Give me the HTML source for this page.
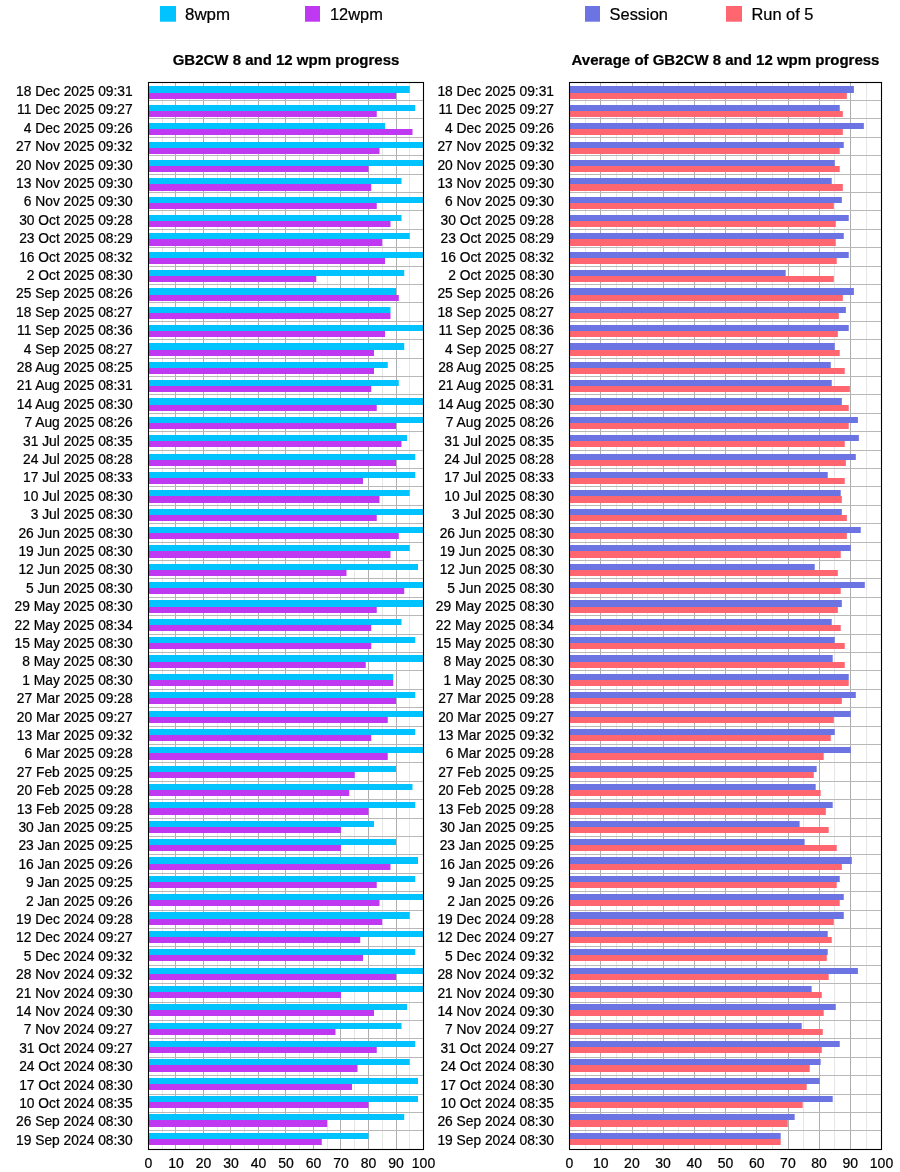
<!DOCTYPE html>
<html><head><meta charset="utf-8"><title>GB2CW progress</title>
<style>html,body{margin:0;padding:0;background:#fff}svg{display:block;will-change:transform}text{font-family:"Liberation Sans",sans-serif;fill:#000;stroke:#000;stroke-width:0.22px}.l{font-size:13.8px;text-anchor:end}.t{font-size:14px;text-anchor:middle}.g{font-size:16.4px}.h{font-size:15px;font-weight:bold;text-anchor:middle}</style></head><body>
<svg width="900" height="1172" viewBox="0 0 900 1172">
<rect width="900" height="1172" fill="#fff"/>
<g>
<rect x="160" y="6" width="16" height="15.7" fill="#00c3ff"/>
<text class="g" x="185.0" y="19.7" style="font-size:16.9px">8wpm</text>
<rect x="305" y="6" width="15" height="15.7" fill="#bf38f2"/>
<text class="g" x="330" y="19.7">12wpm</text>
<text class="h" x="286" y="65">GB2CW 8 and 12 wpm progress</text>
<rect x="162" y="83" width="1" height="1066" fill="#e6e6e6"/>
<rect x="175" y="83" width="1" height="1066" fill="#aeaeae"/>
<rect x="189" y="83" width="1" height="1066" fill="#e6e6e6"/>
<rect x="203" y="83" width="1" height="1066" fill="#aeaeae"/>
<rect x="217" y="83" width="1" height="1066" fill="#e6e6e6"/>
<rect x="230" y="83" width="1" height="1066" fill="#aeaeae"/>
<rect x="244" y="83" width="1" height="1066" fill="#e6e6e6"/>
<rect x="258" y="83" width="1" height="1066" fill="#aeaeae"/>
<rect x="272" y="83" width="1" height="1066" fill="#e6e6e6"/>
<rect x="285" y="83" width="1" height="1066" fill="#aeaeae"/>
<rect x="299" y="83" width="1" height="1066" fill="#e6e6e6"/>
<rect x="313" y="83" width="1" height="1066" fill="#aeaeae"/>
<rect x="327" y="83" width="1" height="1066" fill="#e6e6e6"/>
<rect x="340" y="83" width="1" height="1066" fill="#aeaeae"/>
<rect x="354" y="83" width="1" height="1066" fill="#e6e6e6"/>
<rect x="368" y="83" width="1" height="1066" fill="#aeaeae"/>
<rect x="382" y="83" width="1" height="1066" fill="#e6e6e6"/>
<rect x="396" y="83" width="1" height="1066" fill="#aeaeae"/>
<rect x="409" y="83" width="1" height="1066" fill="#e6e6e6"/>
<rect x="149" y="100" width="274" height="1" fill="#b8b8b8"/>
<rect x="149" y="118" width="274" height="1" fill="#b8b8b8"/>
<rect x="149" y="137" width="274" height="1" fill="#b8b8b8"/>
<rect x="149" y="155" width="274" height="1" fill="#b8b8b8"/>
<rect x="149" y="174" width="274" height="1" fill="#b8b8b8"/>
<rect x="149" y="192" width="274" height="1" fill="#b8b8b8"/>
<rect x="149" y="210" width="274" height="1" fill="#b8b8b8"/>
<rect x="149" y="229" width="274" height="1" fill="#b8b8b8"/>
<rect x="149" y="247" width="274" height="1" fill="#b8b8b8"/>
<rect x="149" y="266" width="274" height="1" fill="#b8b8b8"/>
<rect x="149" y="284" width="274" height="1" fill="#b8b8b8"/>
<rect x="149" y="302" width="274" height="1" fill="#b8b8b8"/>
<rect x="149" y="321" width="274" height="1" fill="#b8b8b8"/>
<rect x="149" y="339" width="274" height="1" fill="#b8b8b8"/>
<rect x="149" y="358" width="274" height="1" fill="#b8b8b8"/>
<rect x="149" y="376" width="274" height="1" fill="#b8b8b8"/>
<rect x="149" y="394" width="274" height="1" fill="#b8b8b8"/>
<rect x="149" y="413" width="274" height="1" fill="#b8b8b8"/>
<rect x="149" y="431" width="274" height="1" fill="#b8b8b8"/>
<rect x="149" y="450" width="274" height="1" fill="#b8b8b8"/>
<rect x="149" y="468" width="274" height="1" fill="#b8b8b8"/>
<rect x="149" y="486" width="274" height="1" fill="#b8b8b8"/>
<rect x="149" y="505" width="274" height="1" fill="#b8b8b8"/>
<rect x="149" y="523" width="274" height="1" fill="#b8b8b8"/>
<rect x="149" y="542" width="274" height="1" fill="#b8b8b8"/>
<rect x="149" y="560" width="274" height="1" fill="#b8b8b8"/>
<rect x="149" y="578" width="274" height="1" fill="#b8b8b8"/>
<rect x="149" y="597" width="274" height="1" fill="#b8b8b8"/>
<rect x="149" y="615" width="274" height="1" fill="#b8b8b8"/>
<rect x="149" y="634" width="274" height="1" fill="#b8b8b8"/>
<rect x="149" y="652" width="274" height="1" fill="#b8b8b8"/>
<rect x="149" y="670" width="274" height="1" fill="#b8b8b8"/>
<rect x="149" y="689" width="274" height="1" fill="#b8b8b8"/>
<rect x="149" y="707" width="274" height="1" fill="#b8b8b8"/>
<rect x="149" y="726" width="274" height="1" fill="#b8b8b8"/>
<rect x="149" y="744" width="274" height="1" fill="#b8b8b8"/>
<rect x="149" y="762" width="274" height="1" fill="#b8b8b8"/>
<rect x="149" y="781" width="274" height="1" fill="#b8b8b8"/>
<rect x="149" y="799" width="274" height="1" fill="#b8b8b8"/>
<rect x="149" y="818" width="274" height="1" fill="#b8b8b8"/>
<rect x="149" y="836" width="274" height="1" fill="#b8b8b8"/>
<rect x="149" y="854" width="274" height="1" fill="#b8b8b8"/>
<rect x="149" y="873" width="274" height="1" fill="#b8b8b8"/>
<rect x="149" y="891" width="274" height="1" fill="#b8b8b8"/>
<rect x="149" y="910" width="274" height="1" fill="#b8b8b8"/>
<rect x="149" y="928" width="274" height="1" fill="#b8b8b8"/>
<rect x="149" y="946" width="274" height="1" fill="#b8b8b8"/>
<rect x="149" y="965" width="274" height="1" fill="#b8b8b8"/>
<rect x="149" y="983" width="274" height="1" fill="#b8b8b8"/>
<rect x="149" y="1002" width="274" height="1" fill="#b8b8b8"/>
<rect x="149" y="1020" width="274" height="1" fill="#b8b8b8"/>
<rect x="149" y="1038" width="274" height="1" fill="#b8b8b8"/>
<rect x="149" y="1057" width="274" height="1" fill="#b8b8b8"/>
<rect x="149" y="1075" width="274" height="1" fill="#b8b8b8"/>
<rect x="149" y="1094" width="274" height="1" fill="#b8b8b8"/>
<rect x="149" y="1112" width="274" height="1" fill="#b8b8b8"/>
<rect x="149" y="1130" width="274" height="1" fill="#b8b8b8"/>
<rect x="149" y="86" width="260.75" height="7" fill="#00c3ff"/>
<rect x="149" y="93" width="247" height="6" fill="#bf38f2"/>
<rect x="149" y="105" width="266.25" height="6" fill="#00c3ff"/>
<rect x="149" y="111" width="227.75" height="6" fill="#bf38f2"/>
<rect x="149" y="123" width="236" height="6" fill="#00c3ff"/>
<rect x="149" y="129" width="263.5" height="6" fill="#bf38f2"/>
<rect x="149" y="142" width="274.5" height="6" fill="#00c3ff"/>
<rect x="149" y="148" width="230.5" height="6" fill="#bf38f2"/>
<rect x="149" y="160" width="274.5" height="6" fill="#00c3ff"/>
<rect x="149" y="166" width="219.5" height="6" fill="#bf38f2"/>
<rect x="149" y="178" width="252.5" height="6" fill="#00c3ff"/>
<rect x="149" y="184" width="222.25" height="7" fill="#bf38f2"/>
<rect x="149" y="197" width="274.5" height="6" fill="#00c3ff"/>
<rect x="149" y="203" width="227.75" height="6" fill="#bf38f2"/>
<rect x="149" y="215" width="252.5" height="6" fill="#00c3ff"/>
<rect x="149" y="221" width="241.5" height="6" fill="#bf38f2"/>
<rect x="149" y="233" width="260.75" height="6" fill="#00c3ff"/>
<rect x="149" y="239" width="233.25" height="7" fill="#bf38f2"/>
<rect x="149" y="252" width="274.5" height="6" fill="#00c3ff"/>
<rect x="149" y="258" width="236" height="6" fill="#bf38f2"/>
<rect x="149" y="270" width="255.25" height="6" fill="#00c3ff"/>
<rect x="149" y="276" width="167.25" height="6" fill="#bf38f2"/>
<rect x="149" y="288" width="247" height="7" fill="#00c3ff"/>
<rect x="149" y="295" width="249.75" height="6" fill="#bf38f2"/>
<rect x="149" y="307" width="241.5" height="6" fill="#00c3ff"/>
<rect x="149" y="313" width="241.5" height="6" fill="#bf38f2"/>
<rect x="149" y="325" width="274.5" height="6" fill="#00c3ff"/>
<rect x="149" y="331" width="236" height="6" fill="#bf38f2"/>
<rect x="149" y="343" width="255.25" height="7" fill="#00c3ff"/>
<rect x="149" y="350" width="225" height="6" fill="#bf38f2"/>
<rect x="149" y="362" width="238.75" height="6" fill="#00c3ff"/>
<rect x="149" y="368" width="225" height="6" fill="#bf38f2"/>
<rect x="149" y="380" width="249.75" height="6" fill="#00c3ff"/>
<rect x="149" y="386" width="222.25" height="6" fill="#bf38f2"/>
<rect x="149" y="398" width="274.5" height="7" fill="#00c3ff"/>
<rect x="149" y="405" width="227.75" height="6" fill="#bf38f2"/>
<rect x="149" y="417" width="274.5" height="6" fill="#00c3ff"/>
<rect x="149" y="423" width="247" height="6" fill="#bf38f2"/>
<rect x="149" y="435" width="258" height="6" fill="#00c3ff"/>
<rect x="149" y="441" width="252.5" height="6" fill="#bf38f2"/>
<rect x="149" y="454" width="266.25" height="6" fill="#00c3ff"/>
<rect x="149" y="460" width="247" height="6" fill="#bf38f2"/>
<rect x="149" y="472" width="266.25" height="6" fill="#00c3ff"/>
<rect x="149" y="478" width="214" height="6" fill="#bf38f2"/>
<rect x="149" y="490" width="260.75" height="6" fill="#00c3ff"/>
<rect x="149" y="496" width="230.5" height="7" fill="#bf38f2"/>
<rect x="149" y="509" width="274.5" height="6" fill="#00c3ff"/>
<rect x="149" y="515" width="227.75" height="6" fill="#bf38f2"/>
<rect x="149" y="527" width="274.5" height="6" fill="#00c3ff"/>
<rect x="149" y="533" width="249.75" height="6" fill="#bf38f2"/>
<rect x="149" y="545" width="260.75" height="6" fill="#00c3ff"/>
<rect x="149" y="551" width="241.5" height="7" fill="#bf38f2"/>
<rect x="149" y="564" width="269" height="6" fill="#00c3ff"/>
<rect x="149" y="570" width="197.5" height="6" fill="#bf38f2"/>
<rect x="149" y="582" width="274.5" height="6" fill="#00c3ff"/>
<rect x="149" y="588" width="255.25" height="6" fill="#bf38f2"/>
<rect x="149" y="600" width="274.5" height="7" fill="#00c3ff"/>
<rect x="149" y="607" width="227.75" height="6" fill="#bf38f2"/>
<rect x="149" y="619" width="252.5" height="6" fill="#00c3ff"/>
<rect x="149" y="625" width="222.25" height="6" fill="#bf38f2"/>
<rect x="149" y="637" width="266.25" height="6" fill="#00c3ff"/>
<rect x="149" y="643" width="222.25" height="6" fill="#bf38f2"/>
<rect x="149" y="655" width="274.5" height="7" fill="#00c3ff"/>
<rect x="149" y="662" width="216.75" height="6" fill="#bf38f2"/>
<rect x="149" y="674" width="244.25" height="6" fill="#00c3ff"/>
<rect x="149" y="680" width="244.25" height="6" fill="#bf38f2"/>
<rect x="149" y="692" width="266.25" height="6" fill="#00c3ff"/>
<rect x="149" y="698" width="247" height="6" fill="#bf38f2"/>
<rect x="149" y="711" width="274.5" height="6" fill="#00c3ff"/>
<rect x="149" y="717" width="238.75" height="6" fill="#bf38f2"/>
<rect x="149" y="729" width="266.25" height="6" fill="#00c3ff"/>
<rect x="149" y="735" width="222.25" height="6" fill="#bf38f2"/>
<rect x="149" y="747" width="274.5" height="6" fill="#00c3ff"/>
<rect x="149" y="753" width="238.75" height="7" fill="#bf38f2"/>
<rect x="149" y="766" width="247" height="6" fill="#00c3ff"/>
<rect x="149" y="772" width="205.75" height="6" fill="#bf38f2"/>
<rect x="149" y="784" width="263.5" height="6" fill="#00c3ff"/>
<rect x="149" y="790" width="200.25" height="6" fill="#bf38f2"/>
<rect x="149" y="802" width="266.25" height="6" fill="#00c3ff"/>
<rect x="149" y="808" width="219.5" height="7" fill="#bf38f2"/>
<rect x="149" y="821" width="225" height="6" fill="#00c3ff"/>
<rect x="149" y="827" width="192" height="6" fill="#bf38f2"/>
<rect x="149" y="839" width="247" height="6" fill="#00c3ff"/>
<rect x="149" y="845" width="192" height="6" fill="#bf38f2"/>
<rect x="149" y="857" width="269" height="7" fill="#00c3ff"/>
<rect x="149" y="864" width="241.5" height="6" fill="#bf38f2"/>
<rect x="149" y="876" width="266.25" height="6" fill="#00c3ff"/>
<rect x="149" y="882" width="227.75" height="6" fill="#bf38f2"/>
<rect x="149" y="894" width="274.5" height="6" fill="#00c3ff"/>
<rect x="149" y="900" width="230.5" height="6" fill="#bf38f2"/>
<rect x="149" y="912" width="260.75" height="7" fill="#00c3ff"/>
<rect x="149" y="919" width="233.25" height="6" fill="#bf38f2"/>
<rect x="149" y="931" width="274.5" height="6" fill="#00c3ff"/>
<rect x="149" y="937" width="211.25" height="6" fill="#bf38f2"/>
<rect x="149" y="949" width="266.25" height="6" fill="#00c3ff"/>
<rect x="149" y="955" width="214" height="6" fill="#bf38f2"/>
<rect x="149" y="968" width="274.5" height="6" fill="#00c3ff"/>
<rect x="149" y="974" width="247" height="6" fill="#bf38f2"/>
<rect x="149" y="986" width="274.5" height="6" fill="#00c3ff"/>
<rect x="149" y="992" width="192" height="6" fill="#bf38f2"/>
<rect x="149" y="1004" width="258" height="6" fill="#00c3ff"/>
<rect x="149" y="1010" width="225" height="6" fill="#bf38f2"/>
<rect x="149" y="1023" width="252.5" height="6" fill="#00c3ff"/>
<rect x="149" y="1029" width="186.5" height="6" fill="#bf38f2"/>
<rect x="149" y="1041" width="266.25" height="6" fill="#00c3ff"/>
<rect x="149" y="1047" width="227.75" height="6" fill="#bf38f2"/>
<rect x="149" y="1059" width="260.75" height="6" fill="#00c3ff"/>
<rect x="149" y="1065" width="208.5" height="7" fill="#bf38f2"/>
<rect x="149" y="1078" width="269" height="6" fill="#00c3ff"/>
<rect x="149" y="1084" width="203" height="6" fill="#bf38f2"/>
<rect x="149" y="1096" width="269" height="6" fill="#00c3ff"/>
<rect x="149" y="1102" width="219.5" height="6" fill="#bf38f2"/>
<rect x="149" y="1114" width="255.25" height="6" fill="#00c3ff"/>
<rect x="149" y="1120" width="178.25" height="7" fill="#bf38f2"/>
<rect x="149" y="1133" width="219.5" height="6" fill="#00c3ff"/>
<rect x="149" y="1139" width="172.75" height="6" fill="#bf38f2"/>
<rect x="148.5" y="82.5" width="275.0" height="1067.0" fill="none" stroke="#000" stroke-width="1.1"/>
<text class="l" x="132.7" y="95.9">18 Dec 2025 09:31</text>
<text class="l" x="132.7" y="114.3">11 Dec 2025 09:27</text>
<text class="l" x="132.7" y="132.7">4 Dec 2025 09:26</text>
<text class="l" x="132.7" y="151.1">27 Nov 2025 09:32</text>
<text class="l" x="132.7" y="169.5">20 Nov 2025 09:30</text>
<text class="l" x="132.7" y="187.9">13 Nov 2025 09:30</text>
<text class="l" x="132.7" y="206.3">6 Nov 2025 09:30</text>
<text class="l" x="132.7" y="224.7">30 Oct 2025 09:28</text>
<text class="l" x="132.7" y="243.1">23 Oct 2025 08:29</text>
<text class="l" x="132.7" y="261.5">16 Oct 2025 08:32</text>
<text class="l" x="132.7" y="279.9">2 Oct 2025 08:30</text>
<text class="l" x="132.7" y="298.3">25 Sep 2025 08:26</text>
<text class="l" x="132.7" y="316.7">18 Sep 2025 08:27</text>
<text class="l" x="132.7" y="335.1">11 Sep 2025 08:36</text>
<text class="l" x="132.7" y="353.5">4 Sep 2025 08:27</text>
<text class="l" x="132.7" y="371.9">28 Aug 2025 08:25</text>
<text class="l" x="132.7" y="390.3">21 Aug 2025 08:31</text>
<text class="l" x="132.7" y="408.7">14 Aug 2025 08:30</text>
<text class="l" x="132.7" y="427.1">7 Aug 2025 08:26</text>
<text class="l" x="132.7" y="445.5">31 Jul 2025 08:35</text>
<text class="l" x="132.7" y="463.9">24 Jul 2025 08:28</text>
<text class="l" x="132.7" y="482.3">17 Jul 2025 08:33</text>
<text class="l" x="132.7" y="500.7">10 Jul 2025 08:30</text>
<text class="l" x="132.7" y="519.1">3 Jul 2025 08:30</text>
<text class="l" x="132.7" y="537.5">26 Jun 2025 08:30</text>
<text class="l" x="132.7" y="555.9">19 Jun 2025 08:30</text>
<text class="l" x="132.7" y="574.3">12 Jun 2025 08:30</text>
<text class="l" x="132.7" y="592.7">5 Jun 2025 08:30</text>
<text class="l" x="132.7" y="611.1">29 May 2025 08:30</text>
<text class="l" x="132.7" y="629.5">22 May 2025 08:34</text>
<text class="l" x="132.7" y="647.9">15 May 2025 08:30</text>
<text class="l" x="132.7" y="666.3">8 May 2025 08:30</text>
<text class="l" x="132.7" y="684.7">1 May 2025 08:30</text>
<text class="l" x="132.7" y="703.1">27 Mar 2025 09:28</text>
<text class="l" x="132.7" y="721.5">20 Mar 2025 09:27</text>
<text class="l" x="132.7" y="739.9">13 Mar 2025 09:32</text>
<text class="l" x="132.7" y="758.3">6 Mar 2025 09:28</text>
<text class="l" x="132.7" y="776.7">27 Feb 2025 09:25</text>
<text class="l" x="132.7" y="795.1">20 Feb 2025 09:28</text>
<text class="l" x="132.7" y="813.5">13 Feb 2025 09:28</text>
<text class="l" x="132.7" y="831.9">30 Jan 2025 09:25</text>
<text class="l" x="132.7" y="850.3">23 Jan 2025 09:25</text>
<text class="l" x="132.7" y="868.7">16 Jan 2025 09:26</text>
<text class="l" x="132.7" y="887.1">9 Jan 2025 09:25</text>
<text class="l" x="132.7" y="905.5">2 Jan 2025 09:26</text>
<text class="l" x="132.7" y="923.9">19 Dec 2024 09:28</text>
<text class="l" x="132.7" y="942.3">12 Dec 2024 09:27</text>
<text class="l" x="132.7" y="960.7">5 Dec 2024 09:32</text>
<text class="l" x="132.7" y="979.1">28 Nov 2024 09:32</text>
<text class="l" x="132.7" y="997.5">21 Nov 2024 09:30</text>
<text class="l" x="132.7" y="1015.9">14 Nov 2024 09:30</text>
<text class="l" x="132.7" y="1034.3">7 Nov 2024 09:27</text>
<text class="l" x="132.7" y="1052.7">31 Oct 2024 09:27</text>
<text class="l" x="132.7" y="1071.1">24 Oct 2024 08:30</text>
<text class="l" x="132.7" y="1089.5">17 Oct 2024 08:30</text>
<text class="l" x="132.7" y="1107.9">10 Oct 2024 08:35</text>
<text class="l" x="132.7" y="1126.3">26 Sep 2024 08:30</text>
<text class="l" x="132.7" y="1144.7">19 Sep 2024 08:30</text>
<text class="t" x="148.5" y="1168">0</text>
<text class="t" x="176" y="1168">10</text>
<text class="t" x="203.5" y="1168">20</text>
<text class="t" x="231" y="1168">30</text>
<text class="t" x="258.5" y="1168">40</text>
<text class="t" x="286" y="1168">50</text>
<text class="t" x="313.5" y="1168">60</text>
<text class="t" x="341" y="1168">70</text>
<text class="t" x="368.5" y="1168">80</text>
<text class="t" x="396" y="1168">90</text>
<text class="t" x="423.5" y="1168">100</text>
</g>
<g>
<rect x="585" y="6" width="15" height="15.7" fill="#6b74e2"/>
<text class="g" x="609.6" y="19.7">Session</text>
<rect x="726" y="6" width="16" height="15.7" fill="#ff6670"/>
<text class="g" x="751.5" y="19.7">Run of 5</text>
<text class="h" x="725.5" y="65">Average of GB2CW 8 and 12 wpm progress</text>
<rect x="585" y="83" width="1" height="1066" fill="#e6e6e6"/>
<rect x="600" y="83" width="1" height="1066" fill="#aeaeae"/>
<rect x="616" y="83" width="1" height="1066" fill="#e6e6e6"/>
<rect x="632" y="83" width="1" height="1066" fill="#aeaeae"/>
<rect x="647" y="83" width="1" height="1066" fill="#e6e6e6"/>
<rect x="663" y="83" width="1" height="1066" fill="#aeaeae"/>
<rect x="678" y="83" width="1" height="1066" fill="#e6e6e6"/>
<rect x="694" y="83" width="1" height="1066" fill="#aeaeae"/>
<rect x="710" y="83" width="1" height="1066" fill="#e6e6e6"/>
<rect x="725" y="83" width="1" height="1066" fill="#aeaeae"/>
<rect x="741" y="83" width="1" height="1066" fill="#e6e6e6"/>
<rect x="756" y="83" width="1" height="1066" fill="#aeaeae"/>
<rect x="772" y="83" width="1" height="1066" fill="#e6e6e6"/>
<rect x="788" y="83" width="1" height="1066" fill="#aeaeae"/>
<rect x="803" y="83" width="1" height="1066" fill="#e6e6e6"/>
<rect x="819" y="83" width="1" height="1066" fill="#aeaeae"/>
<rect x="834" y="83" width="1" height="1066" fill="#e6e6e6"/>
<rect x="850" y="83" width="1" height="1066" fill="#aeaeae"/>
<rect x="866" y="83" width="1" height="1066" fill="#e6e6e6"/>
<rect x="570" y="100" width="311" height="1" fill="#b8b8b8"/>
<rect x="570" y="118" width="311" height="1" fill="#b8b8b8"/>
<rect x="570" y="137" width="311" height="1" fill="#b8b8b8"/>
<rect x="570" y="155" width="311" height="1" fill="#b8b8b8"/>
<rect x="570" y="174" width="311" height="1" fill="#b8b8b8"/>
<rect x="570" y="192" width="311" height="1" fill="#b8b8b8"/>
<rect x="570" y="210" width="311" height="1" fill="#b8b8b8"/>
<rect x="570" y="229" width="311" height="1" fill="#b8b8b8"/>
<rect x="570" y="247" width="311" height="1" fill="#b8b8b8"/>
<rect x="570" y="266" width="311" height="1" fill="#b8b8b8"/>
<rect x="570" y="284" width="311" height="1" fill="#b8b8b8"/>
<rect x="570" y="302" width="311" height="1" fill="#b8b8b8"/>
<rect x="570" y="321" width="311" height="1" fill="#b8b8b8"/>
<rect x="570" y="339" width="311" height="1" fill="#b8b8b8"/>
<rect x="570" y="358" width="311" height="1" fill="#b8b8b8"/>
<rect x="570" y="376" width="311" height="1" fill="#b8b8b8"/>
<rect x="570" y="394" width="311" height="1" fill="#b8b8b8"/>
<rect x="570" y="413" width="311" height="1" fill="#b8b8b8"/>
<rect x="570" y="431" width="311" height="1" fill="#b8b8b8"/>
<rect x="570" y="450" width="311" height="1" fill="#b8b8b8"/>
<rect x="570" y="468" width="311" height="1" fill="#b8b8b8"/>
<rect x="570" y="486" width="311" height="1" fill="#b8b8b8"/>
<rect x="570" y="505" width="311" height="1" fill="#b8b8b8"/>
<rect x="570" y="523" width="311" height="1" fill="#b8b8b8"/>
<rect x="570" y="542" width="311" height="1" fill="#b8b8b8"/>
<rect x="570" y="560" width="311" height="1" fill="#b8b8b8"/>
<rect x="570" y="578" width="311" height="1" fill="#b8b8b8"/>
<rect x="570" y="597" width="311" height="1" fill="#b8b8b8"/>
<rect x="570" y="615" width="311" height="1" fill="#b8b8b8"/>
<rect x="570" y="634" width="311" height="1" fill="#b8b8b8"/>
<rect x="570" y="652" width="311" height="1" fill="#b8b8b8"/>
<rect x="570" y="670" width="311" height="1" fill="#b8b8b8"/>
<rect x="570" y="689" width="311" height="1" fill="#b8b8b8"/>
<rect x="570" y="707" width="311" height="1" fill="#b8b8b8"/>
<rect x="570" y="726" width="311" height="1" fill="#b8b8b8"/>
<rect x="570" y="744" width="311" height="1" fill="#b8b8b8"/>
<rect x="570" y="762" width="311" height="1" fill="#b8b8b8"/>
<rect x="570" y="781" width="311" height="1" fill="#b8b8b8"/>
<rect x="570" y="799" width="311" height="1" fill="#b8b8b8"/>
<rect x="570" y="818" width="311" height="1" fill="#b8b8b8"/>
<rect x="570" y="836" width="311" height="1" fill="#b8b8b8"/>
<rect x="570" y="854" width="311" height="1" fill="#b8b8b8"/>
<rect x="570" y="873" width="311" height="1" fill="#b8b8b8"/>
<rect x="570" y="891" width="311" height="1" fill="#b8b8b8"/>
<rect x="570" y="910" width="311" height="1" fill="#b8b8b8"/>
<rect x="570" y="928" width="311" height="1" fill="#b8b8b8"/>
<rect x="570" y="946" width="311" height="1" fill="#b8b8b8"/>
<rect x="570" y="965" width="311" height="1" fill="#b8b8b8"/>
<rect x="570" y="983" width="311" height="1" fill="#b8b8b8"/>
<rect x="570" y="1002" width="311" height="1" fill="#b8b8b8"/>
<rect x="570" y="1020" width="311" height="1" fill="#b8b8b8"/>
<rect x="570" y="1038" width="311" height="1" fill="#b8b8b8"/>
<rect x="570" y="1057" width="311" height="1" fill="#b8b8b8"/>
<rect x="570" y="1075" width="311" height="1" fill="#b8b8b8"/>
<rect x="570" y="1094" width="311" height="1" fill="#b8b8b8"/>
<rect x="570" y="1112" width="311" height="1" fill="#b8b8b8"/>
<rect x="570" y="1130" width="311" height="1" fill="#b8b8b8"/>
<rect x="570" y="86" width="283.89" height="7" fill="#6b74e2"/>
<rect x="570" y="93" width="276.84" height="6" fill="#ff6670"/>
<rect x="570" y="105" width="269.75" height="6" fill="#6b74e2"/>
<rect x="570" y="111" width="272.81" height="6" fill="#ff6670"/>
<rect x="570" y="123" width="293.84" height="6" fill="#6b74e2"/>
<rect x="570" y="129" width="272.81" height="6" fill="#ff6670"/>
<rect x="570" y="142" width="273.78" height="6" fill="#6b74e2"/>
<rect x="570" y="148" width="269.75" height="6" fill="#ff6670"/>
<rect x="570" y="160" width="264.79" height="6" fill="#6b74e2"/>
<rect x="570" y="166" width="269.75" height="6" fill="#ff6670"/>
<rect x="570" y="178" width="261.74" height="6" fill="#6b74e2"/>
<rect x="570" y="184" width="272.81" height="7" fill="#ff6670"/>
<rect x="570" y="197" width="271.84" height="6" fill="#6b74e2"/>
<rect x="570" y="203" width="263.83" height="6" fill="#ff6670"/>
<rect x="570" y="215" width="278.74" height="6" fill="#6b74e2"/>
<rect x="570" y="221" width="265.76" height="6" fill="#ff6670"/>
<rect x="570" y="233" width="273.78" height="6" fill="#6b74e2"/>
<rect x="570" y="239" width="265.76" height="7" fill="#ff6670"/>
<rect x="570" y="252" width="278.74" height="6" fill="#6b74e2"/>
<rect x="570" y="258" width="266.73" height="6" fill="#ff6670"/>
<rect x="570" y="270" width="215.68" height="6" fill="#6b74e2"/>
<rect x="570" y="276" width="263.83" height="6" fill="#ff6670"/>
<rect x="570" y="288" width="283.89" height="7" fill="#6b74e2"/>
<rect x="570" y="295" width="272.81" height="6" fill="#ff6670"/>
<rect x="570" y="307" width="275.87" height="6" fill="#6b74e2"/>
<rect x="570" y="313" width="268.79" height="6" fill="#ff6670"/>
<rect x="570" y="325" width="278.74" height="6" fill="#6b74e2"/>
<rect x="570" y="331" width="267.85" height="6" fill="#ff6670"/>
<rect x="570" y="343" width="264.79" height="7" fill="#6b74e2"/>
<rect x="570" y="350" width="269.75" height="6" fill="#ff6670"/>
<rect x="570" y="362" width="260.77" height="6" fill="#6b74e2"/>
<rect x="570" y="368" width="274.75" height="6" fill="#ff6670"/>
<rect x="570" y="380" width="261.74" height="6" fill="#6b74e2"/>
<rect x="570" y="386" width="279.86" height="6" fill="#ff6670"/>
<rect x="570" y="398" width="271.84" height="7" fill="#6b74e2"/>
<rect x="570" y="405" width="278.74" height="6" fill="#ff6670"/>
<rect x="570" y="417" width="287.91" height="6" fill="#6b74e2"/>
<rect x="570" y="423" width="278.74" height="6" fill="#ff6670"/>
<rect x="570" y="435" width="288.85" height="6" fill="#6b74e2"/>
<rect x="570" y="441" width="274.75" height="6" fill="#ff6670"/>
<rect x="570" y="454" width="285.82" height="6" fill="#6b74e2"/>
<rect x="570" y="460" width="275.87" height="6" fill="#ff6670"/>
<rect x="570" y="472" width="257.74" height="6" fill="#6b74e2"/>
<rect x="570" y="478" width="274.75" height="6" fill="#ff6670"/>
<rect x="570" y="490" width="270.72" height="6" fill="#6b74e2"/>
<rect x="570" y="496" width="271.84" height="7" fill="#ff6670"/>
<rect x="570" y="509" width="271.84" height="6" fill="#6b74e2"/>
<rect x="570" y="515" width="276.84" height="6" fill="#ff6670"/>
<rect x="570" y="527" width="290.78" height="6" fill="#6b74e2"/>
<rect x="570" y="533" width="276.84" height="6" fill="#ff6670"/>
<rect x="570" y="545" width="280.83" height="6" fill="#6b74e2"/>
<rect x="570" y="551" width="270.72" height="7" fill="#ff6670"/>
<rect x="570" y="564" width="244.73" height="6" fill="#6b74e2"/>
<rect x="570" y="570" width="267.85" height="6" fill="#ff6670"/>
<rect x="570" y="582" width="294.81" height="6" fill="#6b74e2"/>
<rect x="570" y="588" width="270.72" height="6" fill="#ff6670"/>
<rect x="570" y="600" width="271.84" height="7" fill="#6b74e2"/>
<rect x="570" y="607" width="267.85" height="6" fill="#ff6670"/>
<rect x="570" y="619" width="261.74" height="6" fill="#6b74e2"/>
<rect x="570" y="625" width="270.72" height="6" fill="#ff6670"/>
<rect x="570" y="637" width="264.79" height="6" fill="#6b74e2"/>
<rect x="570" y="643" width="274.75" height="6" fill="#ff6670"/>
<rect x="570" y="655" width="262.7" height="7" fill="#6b74e2"/>
<rect x="570" y="662" width="274.75" height="6" fill="#ff6670"/>
<rect x="570" y="674" width="278.74" height="6" fill="#6b74e2"/>
<rect x="570" y="680" width="278.74" height="6" fill="#ff6670"/>
<rect x="570" y="692" width="285.82" height="6" fill="#6b74e2"/>
<rect x="570" y="698" width="271.84" height="6" fill="#ff6670"/>
<rect x="570" y="711" width="280.83" height="6" fill="#6b74e2"/>
<rect x="570" y="717" width="263.83" height="6" fill="#ff6670"/>
<rect x="570" y="729" width="264.79" height="6" fill="#6b74e2"/>
<rect x="570" y="735" width="260.77" height="6" fill="#ff6670"/>
<rect x="570" y="747" width="280.83" height="6" fill="#6b74e2"/>
<rect x="570" y="753" width="253.72" height="7" fill="#ff6670"/>
<rect x="570" y="766" width="246.67" height="6" fill="#6b74e2"/>
<rect x="570" y="772" width="243.76" height="6" fill="#ff6670"/>
<rect x="570" y="784" width="245.7" height="6" fill="#6b74e2"/>
<rect x="570" y="790" width="250.66" height="6" fill="#ff6670"/>
<rect x="570" y="802" width="262.7" height="6" fill="#6b74e2"/>
<rect x="570" y="808" width="255.81" height="7" fill="#ff6670"/>
<rect x="570" y="821" width="229.63" height="6" fill="#6b74e2"/>
<rect x="570" y="827" width="258.68" height="6" fill="#ff6670"/>
<rect x="570" y="839" width="234.62" height="6" fill="#6b74e2"/>
<rect x="570" y="845" width="266.73" height="6" fill="#ff6670"/>
<rect x="570" y="857" width="281.8" height="7" fill="#6b74e2"/>
<rect x="570" y="864" width="271.84" height="6" fill="#ff6670"/>
<rect x="570" y="876" width="269.75" height="6" fill="#6b74e2"/>
<rect x="570" y="882" width="266.73" height="6" fill="#ff6670"/>
<rect x="570" y="894" width="273.78" height="6" fill="#6b74e2"/>
<rect x="570" y="900" width="269.75" height="6" fill="#ff6670"/>
<rect x="570" y="912" width="273.78" height="7" fill="#6b74e2"/>
<rect x="570" y="919" width="263.83" height="6" fill="#ff6670"/>
<rect x="570" y="931" width="257.74" height="6" fill="#6b74e2"/>
<rect x="570" y="937" width="261.74" height="6" fill="#ff6670"/>
<rect x="570" y="949" width="257.74" height="6" fill="#6b74e2"/>
<rect x="570" y="955" width="256.78" height="6" fill="#ff6670"/>
<rect x="570" y="968" width="287.91" height="6" fill="#6b74e2"/>
<rect x="570" y="974" width="258.68" height="6" fill="#ff6670"/>
<rect x="570" y="986" width="241.67" height="6" fill="#6b74e2"/>
<rect x="570" y="992" width="251.78" height="6" fill="#ff6670"/>
<rect x="570" y="1004" width="265.76" height="6" fill="#6b74e2"/>
<rect x="570" y="1010" width="253.72" height="6" fill="#ff6670"/>
<rect x="570" y="1023" width="231.72" height="6" fill="#6b74e2"/>
<rect x="570" y="1029" width="252.75" height="6" fill="#ff6670"/>
<rect x="570" y="1041" width="269.75" height="6" fill="#6b74e2"/>
<rect x="570" y="1047" width="251.78" height="6" fill="#ff6670"/>
<rect x="570" y="1059" width="250.66" height="6" fill="#6b74e2"/>
<rect x="570" y="1065" width="239.74" height="7" fill="#ff6670"/>
<rect x="570" y="1078" width="249.69" height="6" fill="#6b74e2"/>
<rect x="570" y="1084" width="236.71" height="6" fill="#ff6670"/>
<rect x="570" y="1096" width="262.7" height="6" fill="#6b74e2"/>
<rect x="570" y="1102" width="232.69" height="6" fill="#ff6670"/>
<rect x="570" y="1114" width="224.67" height="6" fill="#6b74e2"/>
<rect x="570" y="1120" width="217.78" height="7" fill="#ff6670"/>
<rect x="570" y="1133" width="210.69" height="6" fill="#6b74e2"/>
<rect x="570" y="1139" width="210.69" height="6" fill="#ff6670"/>
<rect x="569.5" y="82.5" width="312.0" height="1067.0" fill="none" stroke="#000" stroke-width="1.1"/>
<text class="l" x="554.0" y="95.9">18 Dec 2025 09:31</text>
<text class="l" x="554.0" y="114.3">11 Dec 2025 09:27</text>
<text class="l" x="554.0" y="132.7">4 Dec 2025 09:26</text>
<text class="l" x="554.0" y="151.1">27 Nov 2025 09:32</text>
<text class="l" x="554.0" y="169.5">20 Nov 2025 09:30</text>
<text class="l" x="554.0" y="187.9">13 Nov 2025 09:30</text>
<text class="l" x="554.0" y="206.3">6 Nov 2025 09:30</text>
<text class="l" x="554.0" y="224.7">30 Oct 2025 09:28</text>
<text class="l" x="554.0" y="243.1">23 Oct 2025 08:29</text>
<text class="l" x="554.0" y="261.5">16 Oct 2025 08:32</text>
<text class="l" x="554.0" y="279.9">2 Oct 2025 08:30</text>
<text class="l" x="554.0" y="298.3">25 Sep 2025 08:26</text>
<text class="l" x="554.0" y="316.7">18 Sep 2025 08:27</text>
<text class="l" x="554.0" y="335.1">11 Sep 2025 08:36</text>
<text class="l" x="554.0" y="353.5">4 Sep 2025 08:27</text>
<text class="l" x="554.0" y="371.9">28 Aug 2025 08:25</text>
<text class="l" x="554.0" y="390.3">21 Aug 2025 08:31</text>
<text class="l" x="554.0" y="408.7">14 Aug 2025 08:30</text>
<text class="l" x="554.0" y="427.1">7 Aug 2025 08:26</text>
<text class="l" x="554.0" y="445.5">31 Jul 2025 08:35</text>
<text class="l" x="554.0" y="463.9">24 Jul 2025 08:28</text>
<text class="l" x="554.0" y="482.3">17 Jul 2025 08:33</text>
<text class="l" x="554.0" y="500.7">10 Jul 2025 08:30</text>
<text class="l" x="554.0" y="519.1">3 Jul 2025 08:30</text>
<text class="l" x="554.0" y="537.5">26 Jun 2025 08:30</text>
<text class="l" x="554.0" y="555.9">19 Jun 2025 08:30</text>
<text class="l" x="554.0" y="574.3">12 Jun 2025 08:30</text>
<text class="l" x="554.0" y="592.7">5 Jun 2025 08:30</text>
<text class="l" x="554.0" y="611.1">29 May 2025 08:30</text>
<text class="l" x="554.0" y="629.5">22 May 2025 08:34</text>
<text class="l" x="554.0" y="647.9">15 May 2025 08:30</text>
<text class="l" x="554.0" y="666.3">8 May 2025 08:30</text>
<text class="l" x="554.0" y="684.7">1 May 2025 08:30</text>
<text class="l" x="554.0" y="703.1">27 Mar 2025 09:28</text>
<text class="l" x="554.0" y="721.5">20 Mar 2025 09:27</text>
<text class="l" x="554.0" y="739.9">13 Mar 2025 09:32</text>
<text class="l" x="554.0" y="758.3">6 Mar 2025 09:28</text>
<text class="l" x="554.0" y="776.7">27 Feb 2025 09:25</text>
<text class="l" x="554.0" y="795.1">20 Feb 2025 09:28</text>
<text class="l" x="554.0" y="813.5">13 Feb 2025 09:28</text>
<text class="l" x="554.0" y="831.9">30 Jan 2025 09:25</text>
<text class="l" x="554.0" y="850.3">23 Jan 2025 09:25</text>
<text class="l" x="554.0" y="868.7">16 Jan 2025 09:26</text>
<text class="l" x="554.0" y="887.1">9 Jan 2025 09:25</text>
<text class="l" x="554.0" y="905.5">2 Jan 2025 09:26</text>
<text class="l" x="554.0" y="923.9">19 Dec 2024 09:28</text>
<text class="l" x="554.0" y="942.3">12 Dec 2024 09:27</text>
<text class="l" x="554.0" y="960.7">5 Dec 2024 09:32</text>
<text class="l" x="554.0" y="979.1">28 Nov 2024 09:32</text>
<text class="l" x="554.0" y="997.5">21 Nov 2024 09:30</text>
<text class="l" x="554.0" y="1015.9">14 Nov 2024 09:30</text>
<text class="l" x="554.0" y="1034.3">7 Nov 2024 09:27</text>
<text class="l" x="554.0" y="1052.7">31 Oct 2024 09:27</text>
<text class="l" x="554.0" y="1071.1">24 Oct 2024 08:30</text>
<text class="l" x="554.0" y="1089.5">17 Oct 2024 08:30</text>
<text class="l" x="554.0" y="1107.9">10 Oct 2024 08:35</text>
<text class="l" x="554.0" y="1126.3">26 Sep 2024 08:30</text>
<text class="l" x="554.0" y="1144.7">19 Sep 2024 08:30</text>
<text class="t" x="569.5" y="1168">0</text>
<text class="t" x="600.7" y="1168">10</text>
<text class="t" x="631.9" y="1168">20</text>
<text class="t" x="663.1" y="1168">30</text>
<text class="t" x="694.3" y="1168">40</text>
<text class="t" x="725.5" y="1168">50</text>
<text class="t" x="756.7" y="1168">60</text>
<text class="t" x="787.9" y="1168">70</text>
<text class="t" x="819.1" y="1168">80</text>
<text class="t" x="850.3" y="1168">90</text>
<text class="t" x="881.5" y="1168">100</text>
</g>
</svg></body></html>
